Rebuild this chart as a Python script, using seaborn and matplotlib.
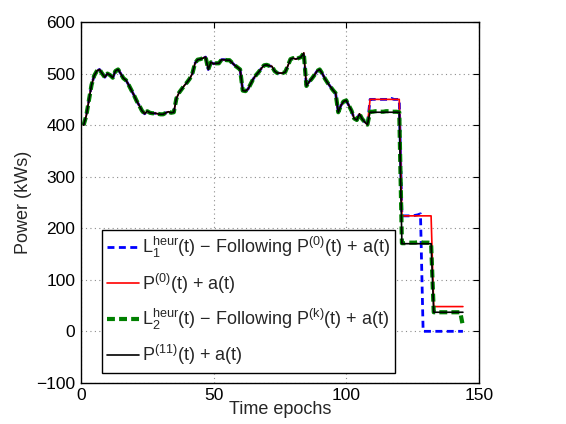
"""Power trace vs. time epochs: heuristic load-following comparison."""
import matplotlib
matplotlib.use("Agg")
import matplotlib.pyplot as plt
import numpy as np
import seaborn as sns

# ---- data ----
# shared trajectory for epochs 1..108 (all four curves coincide here)
base = [
    400, 418, 448, 478, 496, 505, 508, 500, 493, 500,
    497, 492, 505, 508, 500, 491, 487, 478, 468, 458,
    447, 438, 428, 422, 427, 424, 423, 423, 422, 421,
    421, 424, 426, 424, 425, 452, 463, 470, 477, 483,
    490, 500, 520, 527, 528, 530, 532, 508, 522, 519,
    520, 520, 527, 527, 526, 526, 521, 516, 512, 508,
    467, 466, 470, 480, 490, 497, 503, 510, 516, 517,
    515, 514, 505, 501, 501, 501, 503, 515, 528, 530,
    528, 530, 532, 540, 476, 484, 490, 497, 505, 508,
    500, 490, 482, 475, 468, 462, 425, 438, 446, 448,
    438, 428, 413, 410, 422, 412, 406, 401,
]
# epochs 109..144
tail_l1 = [450, 450, 450, 450, 450, 450, 450, 450, 452, 450, 450, 450,
           224, 224, 224, 224, 224, 225, 226, 228, 0, 0, 0, 0,
           0, 0, 0, 0, 0, 0, 0, 0, 0, 0, 0, 0]
tail_p0 = [450] * 12 + [224] * 12 + [48] * 12
tail_l2 = [426, 426, 427, 427, 426, 426, 427, 427, 426, 426, 426, 425,
           171, 171, 172, 172, 172, 172, 173, 173, 172, 172, 172, 171,
           37, 37, 37, 37, 37, 37, 37, 37, 37, 37, 37, 10]
tail_p11 = [425] * 12 + [170] * 12 + [37] * 12

epochs = np.arange(1, 145)
l1_heur = base + tail_l1
p0 = base + tail_p0
l2_heur = base + tail_l2
p11 = base + tail_p11

labels = [
    r"$\mathregular{L_1^{heur}}$(t) − Following $\mathregular{P^{(0)}}$(t) + a(t)",
    r"$\mathregular{P^{(0)}}$(t) + a(t)",
    r"$\mathregular{L_2^{heur}}$(t) − Following $\mathregular{P^{(k)}}$(t) + a(t)",
    r"$\mathregular{P^{(11)}}$(t) + a(t)",
]

# ---- style ----
sns.set_theme(style="white")
plt.rcParams["font.family"] = ["Liberation Sans", "DejaVu Sans"]
plt.rcParams["mathtext.fontset"] = "custom"
plt.rcParams["mathtext.rm"] = "Liberation Sans"
plt.rcParams["font.size"] = 13

fig = plt.figure(figsize=(5.66, 4.24), dpi=100)
ax = fig.add_axes([0.143, 0.097, 0.703, 0.851])

sns.lineplot(x=epochs, y=l1_heur, ax=ax, color="#0000ff", linewidth=2,
             linestyle=(0, (2.5, 1.6)), label=labels[0])
sns.lineplot(x=epochs, y=p0, ax=ax, color="#ff0000", linewidth=1.2,
             label=labels[1])
sns.lineplot(x=epochs, y=l2_heur, ax=ax, color="#008000", linewidth=3,
             linestyle=(0, (1.9, 1.0)), label=labels[2])
sns.lineplot(x=epochs, y=p11, ax=ax, color="black", linewidth=1.2,
             label=labels[3])

ax.set_xlim(0, 150)
ax.set_ylim(-100, 600)
ax.set_xticks([0, 50, 100, 150])
ax.set_yticks(np.arange(-100, 601, 100))
ax.set_xlabel("Time epochs", fontsize=13, labelpad=-2)
ax.set_ylabel("Power (kWs)", fontsize=13, labelpad=3)

ax.grid(True, color="0.55", linestyle=(0, (1, 3)), linewidth=0.8)
for s in ax.spines.values():
    s.set_color("black")
    s.set_linewidth(1.0)
ax.tick_params(direction="in", length=4, width=0.8, colors="black",
               labelsize=12.5, top=True, right=True, pad=4)

leg = ax.legend(loc="upper left", bbox_to_anchor=(0.053, 0.424),
                borderaxespad=0, fontsize=13, handlelength=1.75,
                handletextpad=0.15, labelspacing=0.62, borderpad=0.3,
                fancybox=False, framealpha=1)
leg.get_frame().set_edgecolor("black")
leg.get_frame().set_linewidth(1.0)

fig.savefig("out.png", dpi=100)
